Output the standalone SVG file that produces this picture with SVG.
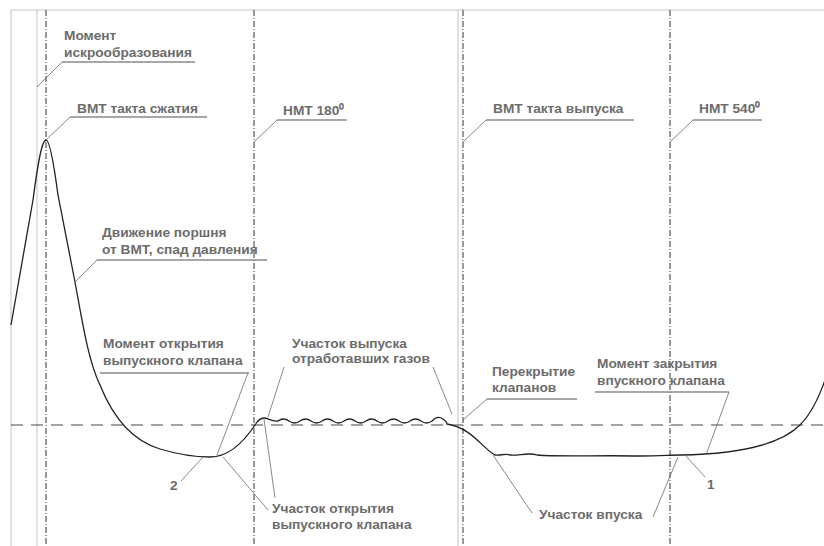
<svg xmlns="http://www.w3.org/2000/svg" width="824" height="546" viewBox="0 0 824 546">
<style>
.lbl{font-family:"Liberation Sans",Arial,sans-serif;font-weight:bold;font-size:13.7px;fill:#6c6c6c}
.ul{stroke:#8a8a8a;stroke-width:1.4;fill:none}
.ld{stroke:#6a6a6a;stroke-width:0.8;fill:none}
.frame{stroke:#c4c4c4;stroke-width:1;fill:none}
.dd{stroke:#333;stroke-width:1;stroke-dasharray:6 2 1 2;fill:none}
.axis{stroke:#444;stroke-width:1;stroke-dasharray:12 8;fill:none}
.curve{stroke:#222;stroke-width:1.3;fill:none}
</style>
<rect width="824" height="546" fill="#fff"/>
<g id="grid">
<path class="frame" d="M11,10 H824 M11,10 V546 M37,10 V546 M458,10 V546"/>
<path class="dd" d="M46,10 V546 M254,10 V546 M463,10 V546 M670,10 V546"/>
<path class="axis" d="M11,425 H824"/>
</g>
<g id="curve">
<path class="curve" d="M11,325 L33,200 C38,162 42,140 46,140 C50,140 54,165 58,195 L75,282 C82,320 88,360 100,385 C112,415 130,440 160,449 C180,455 195,457 210,457 C230,457 245,440 255,425 C258,420 260,418 264,418 C268,418 272,422 278,421 q5.5,-4 11,0 q5.5,4 11,0 q5.5,-4 11,0 q5.5,4 11,0 q5.5,-4 11,0 q5.5,4 11,0 q5.5,-4 11,0 q5.5,4 11,0 q5.5,-4 11,0 q5.5,4 11,0 q5.5,-4 11,0 q5.5,4 11,0 q5.5,-4 11,0 q5.5,4 11,0 q5.5,-6 11,-2 q4,3 4,5 C472,428 482,448 495,455 C500,456 505,453 510,455 C518,456 528,452 537,455 C560,457 600,455 640,456 C660,456 670,455 680,455 C740,454 780,445 800,425 C810,415 818,400 825,380"/>
</g>
<g id="connectors">
<path class="ld" d="M62,62 L37,87"/>
<path class="ld" d="M70,117 L46,140"/>
<path class="ld" d="M277,120 L254,142"/>
<path class="ld" d="M486,120 L463,142"/>
<path class="ld" d="M693,120 L670,142"/>
<path class="ld" d="M97,260 L75,282"/>
<path class="ld" d="M248,373 L217,455"/>
<path class="ld" d="M181,481 L203,457"/>
<path class="ld" d="M268,510 L223,457"/>
<path class="ld" d="M275,498 L264,419"/>
<path class="ld" d="M284,367 L268,417"/>
<path class="ld" d="M433,367 L452,414"/>
<path class="ld" d="M487,399 L463,420"/>
<path class="ld" d="M729,392 L706,455"/>
<path class="ld" d="M685,455 L705,477"/>
<path class="ld" d="M532,513 L493,455"/>
<path class="ld" d="M653,517 L678,457"/>
</g>
<g id="n-ignition">
<text class="lbl" x="64" y="40">Момент</text>
<text class="lbl" x="64" y="57">искрообразования</text>
<path class="ul" d="M62,62 H195"/>
</g>
<g id="n-tdc-compression">
<text class="lbl" x="77" y="113">ВМТ такта сжатия</text>
<path class="ul" d="M70,117 H207"/>
</g>
<g id="n-bdc180">
<text class="lbl" x="283" y="115">НМТ 180⁰</text>
<path class="ul" d="M277,120 H347"/>
</g>
<g id="n-tdc-exhaust">
<text class="lbl" x="493" y="113">ВМТ такта выпуска</text>
<path class="ul" d="M486,120 H634"/>
</g>
<g id="n-bdc540">
<text class="lbl" x="699" y="113">НМТ 540⁰</text>
<path class="ul" d="M693,120 H762"/>
</g>
<g id="n-piston">
<text class="lbl" x="102" y="237">Движение поршня</text>
<text class="lbl" x="102" y="254">от ВМТ, спад давления</text>
<path class="ul" d="M97,260 H267"/>
</g>
<g id="n-exh-open-moment">
<text class="lbl" x="103" y="348">Момент открытия</text>
<text class="lbl" x="103" y="365">выпускного клапана</text>
<path class="ul" d="M100,373 H249"/>
</g>
<g id="n-2">
<text class="lbl" x="170" y="490">2</text>
</g>
<g id="n-exh-open-section">
<text class="lbl" x="272" y="513">Участок открытия</text>
<text class="lbl" x="272" y="529">выпускного клапана</text>
</g>
<g id="n-exhaust">
<text class="lbl" x="292" y="348">Участок выпуска</text>
<text class="lbl" x="292" y="363">отработавших газов</text>
</g>
<g id="n-overlap">
<text class="lbl" x="492" y="376">Перекрытие</text>
<text class="lbl" x="492" y="392">клапанов</text>
<path class="ul" d="M487,399 H577"/>
</g>
<g id="n-intake-close">
<text class="lbl" x="597" y="368">Момент закрытия</text>
<text class="lbl" x="597" y="385">впускного клапана</text>
<path class="ul" d="M595,392 H729"/>
</g>
<g id="n-1">
<text class="lbl" x="707" y="489">1</text>
</g>
<g id="n-intake">
<text class="lbl" x="539" y="519">Участок впуска</text>
</g>
</svg>
